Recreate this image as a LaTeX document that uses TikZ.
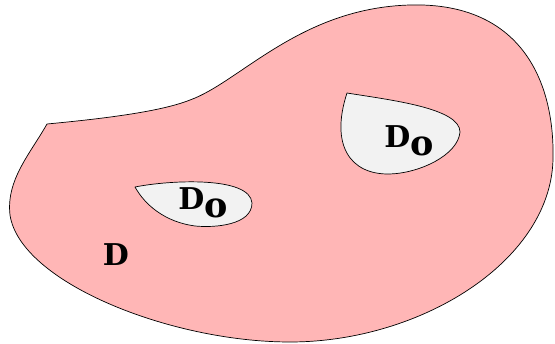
\documentclass[tikz,border=0pt]{standalone}
\usepackage{fontspec}
\setmainfont{DejaVu Serif}
\definecolor{regionpink}{RGB}{255,182,182}
\definecolor{holegray}{RGB}{242,242,242}
\tikzset{
  region/.style={draw=black, line width=0.7pt, fill=regionpink, line join=round},
  hole/.style={draw=black, line width=0.7pt, fill=holegray, line join=round},
  lbl/.style={inner sep=0pt, font=\bfseries\fontsize{30}{30}\selectfont}
}
\newcommand{\subo}{\raisebox{-8pt}{\fontsize{35}{35}\selectfont o}}
\begin{document}
\begin{tikzpicture}[x=1pt, y=-1pt]
\useasboundingbox (0,0) rectangle (555,344);
% outer region
\path[region] (47,124) .. controls (100,119) and (160,112) .. (190,100)
  .. controls (240,82) and (300,8) .. (410,5)
  .. controls (520,2) and (555,80) .. (553,160)
  .. controls (550,262) and (420,342) .. (290,342)
  .. controls (170,342) and (20,282) .. (10,215)
  .. controls (6,180) and (30,154) .. (47,124) -- cycle;
% hole 1
\path[hole] (347,93) .. controls (390,100) and (460,108) .. (460,132)
  .. controls (458,155) and (420,173) .. (390,174)
  .. controls (350,175) and (330,145) .. (347,93) -- cycle;
% hole 2
\path[hole] (135,187) .. controls (170,180) and (250,176) .. (252,203)
  .. controls (252,225) and (215,228) .. (195,226)
  .. controls (165,222) and (145,205) .. (135,187) -- cycle;
% labels
\node[lbl] (d) at (116,255) {D};
\node[lbl] (do1) at (409,141) {D\subo};
\node[lbl] (do2) at (203,203) {D\subo};
\end{tikzpicture}
\end{document}
